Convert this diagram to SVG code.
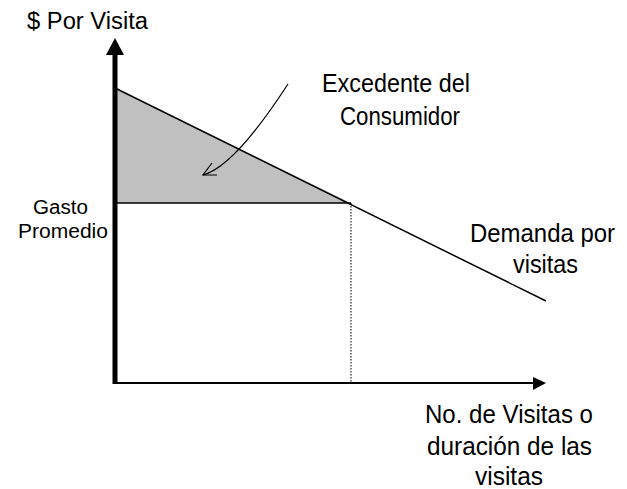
<svg xmlns="http://www.w3.org/2000/svg" width="627" height="489" viewBox="0 0 627 489">
<style>
text{font-family:"Liberation Sans",Arial,sans-serif;font-size:25px;fill:#000}
.sm{font-size:20px}
.ttl{font-size:23px}
.ln{stroke:#000;fill:none}
</style>
<rect width="627" height="489" fill="#fff"/>
<g id="surplus">
<polygon points="115,88 351,203 115,203" fill="#c0c0c0"/>
</g>
<g id="connectors">
<line class="ln" x1="115" y1="203" x2="351" y2="203" stroke-width="1.5" stroke="#333"/>
<line class="ln" x1="351" y1="203" x2="351" y2="383" stroke-width="1" stroke="#444" stroke-dasharray="1.5,1.5"/>
<line class="ln" x1="115" y1="88" x2="546" y2="301" stroke-width="1.5"/>
<line class="ln" x1="115" y1="383" x2="535" y2="383" stroke-width="2" stroke="#222"/>
<polygon points="546,383 533,377 533,390" fill="#000"/>
<line class="ln" x1="115" y1="384" x2="115" y2="53" stroke-width="5"/>
<polygon points="115,38 106,55 124,55" fill="#000"/>
<path class="ln" d="M288,84 Q234.5,166.5 203,175" stroke-width="1.2"/>
<path class="ln" d="M212,163 L203,175 L217,175" stroke-width="1.2"/>
</g>
<g id="ylabel"><text class="ttl" x="27" y="29" textLength="121" lengthAdjust="spacingAndGlyphs">$ Por Visita</text></g>
<g id="excedente">
<text x="322" y="92" textLength="148" lengthAdjust="spacingAndGlyphs">Excedente del</text>
<text x="340" y="125" textLength="120" lengthAdjust="spacingAndGlyphs">Consumidor</text>
</g>
<g id="gasto">
<text class="sm" x="33" y="214" textLength="55" lengthAdjust="spacingAndGlyphs">Gasto</text>
<text class="sm" x="18" y="238" textLength="90" lengthAdjust="spacingAndGlyphs">Promedio</text>
</g>
<g id="demanda">
<text x="470" y="242" textLength="145" lengthAdjust="spacingAndGlyphs">Demanda por</text>
<text x="513" y="273" textLength="65" lengthAdjust="spacingAndGlyphs">visitas</text>
</g>
<g id="xlabel">
<text x="425" y="423" textLength="168" lengthAdjust="spacingAndGlyphs">No. de Visitas o</text>
<text x="427" y="455" textLength="165" lengthAdjust="spacingAndGlyphs">duración de las</text>
<text x="475" y="485" textLength="68" lengthAdjust="spacingAndGlyphs">visitas</text>
</g>
</svg>
